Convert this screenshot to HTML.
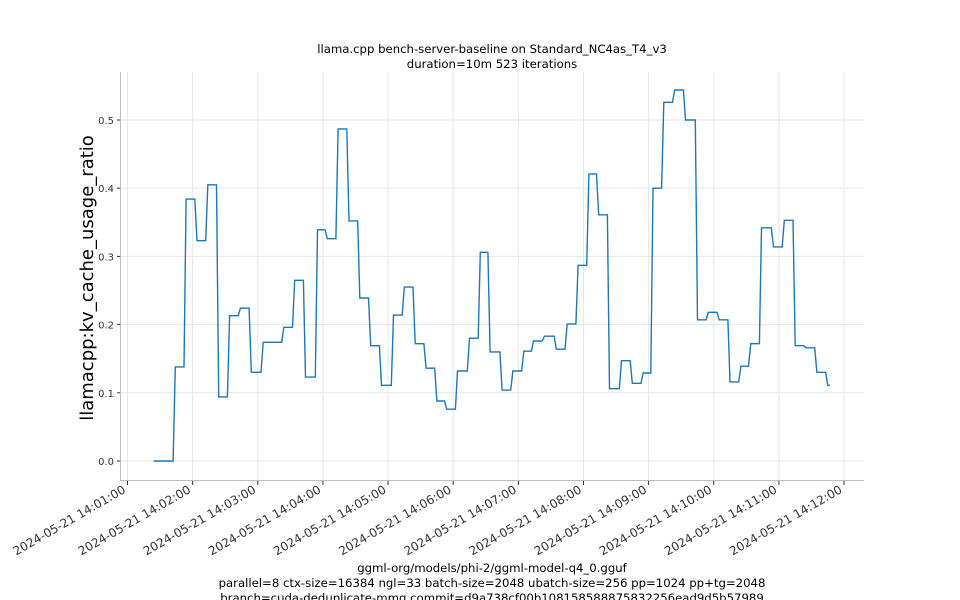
<!DOCTYPE html>
<html><head><meta charset="utf-8"><style>
body{margin:0;background:#fff;}
svg{display:block;font-family:"DejaVu Sans","Liberation Sans",sans-serif;}
</style></head><body>
<svg width="960" height="600" viewBox="0 0 960 600">
<text x="492" y="53" font-size="11.7" text-anchor="middle" fill="#000">llama.cpp bench-server-baseline on Standard_NC4as_T4_v3</text>
<text x="492" y="68" font-size="11.7" text-anchor="middle" fill="#000">duration=10m 523 iterations</text>
<g id="grid"></g>
<line x1="120.5" y1="72" x2="120.5" y2="480.5" stroke="#bbb"/>
<line x1="120" y1="480.5" x2="864" y2="480.5" stroke="#bbb"/>
<g id="yticks"></g>
<g id="xticks"></g>
<path id="series" fill="none" stroke="#1f77b4" stroke-width="1.4"/>
<text transform="translate(93,278) rotate(-90)" font-size="18" text-anchor="middle" fill="#000">llamacpp:kv_cache_usage_ratio</text>
<text x="492" y="572" font-size="11.7" text-anchor="middle">ggml-org/models/phi-2/ggml-model-q4_0.gguf</text>
<text x="492" y="587" font-size="11.7" text-anchor="middle">parallel=8 ctx-size=16384 ngl=33 batch-size=2048 ubatch-size=256 pp=1024 pp+tg=2048</text>
<text x="492" y="602" font-size="11.7" text-anchor="middle">branch=cuda-deduplicate-mmq commit=d9a738cf00b108158588875832256ead9d5b57989</text>
</svg>
<script>
const stepTimes = ["14:01:24","14:01:44","14:01:54","14:02:04","14:02:14","14:02:24","14:02:34","14:02:44","14:02:54","14:03:05","14:03:24","14:03:34","14:03:44","14:03:55","14:04:04","14:04:14","14:04:24","14:04:34","14:04:44","14:04:54","14:05:05","14:05:15","14:05:25","14:05:35","14:05:45","14:05:54","14:06:04","14:06:15","14:06:25","14:06:34","14:06:45","14:06:55","14:07:05","14:07:14","14:07:24","14:07:35","14:07:45","14:07:55","14:08:05","14:08:14","14:08:24","14:08:35","14:08:45","14:08:55","14:09:04","14:09:14","14:09:24","14:09:34","14:09:45","14:09:55","14:10:05","14:10:15","14:10:25","14:10:34","14:10:44","14:10:55","14:11:05","14:11:15","14:11:25","14:11:35","14:11:45"];
const stepValues = [0.000,0.138,0.384,0.323,0.405,0.094,0.213,0.224,0.130,0.174,0.196,0.265,0.123,0.339,0.326,0.487,0.352,0.239,0.169,0.111,0.214,0.255,0.172,0.136,0.088,0.076,0.132,0.180,0.306,0.160,0.104,0.132,0.161,0.176,0.183,0.164,0.201,0.287,0.421,0.361,0.106,0.147,0.114,0.129,0.400,0.526,0.544,0.500,0.207,0.218,0.207,0.116,0.139,0.172,0.342,0.314,0.353,0.169,0.166,0.130,0.111];
const endTime = "14:11:47";
const yTickValues = [0.0,0.1,0.2,0.3,0.4,0.5];
const xTickLabels = ["14:01:00","14:02:00","14:03:00","14:04:00","14:05:00","14:06:00","14:07:00","14:08:00","14:09:00","14:10:00","14:11:00","14:12:00"];
const NS="http://www.w3.org/2000/svg";
function sec(t){const p=t.split(":").map(Number);return p[0]*3600+p[1]*60+p[2];}
const t0=sec("14:01:00");
function X(t){return 127.5+(sec(t)-t0)*65.14/60;}
function Xs(s){return 127.5+(s-t0)*65.14/60;}
function Y(v){return 461-v*682;}
const grid=document.getElementById('grid'),yt=document.getElementById('yticks'),xt=document.getElementById('xticks');
yTickValues.forEach(v=>{
 const y=Y(v);
 const g=document.createElementNS(NS,'line');
 
 
 g.setAttribute('x1',121);g.setAttribute('x2',864);g.setAttribute('y1',y);g.setAttribute('y2',y);g.setAttribute('stroke','#e6e6e6');grid.appendChild(g);
 const tk=document.createElementNS(NS,'line');
 
 
 tk.setAttribute('x1',117);tk.setAttribute('x2',120);tk.setAttribute('y1',y);tk.setAttribute('y2',y);tk.setAttribute('stroke','#333');yt.appendChild(tk);
 const tx=document.createElementNS(NS,'text');
 
 
 tx.setAttribute('x',114);tx.setAttribute('y',y+4);tx.setAttribute('font-size','10');tx.setAttribute('text-anchor','end');tx.setAttribute('fill','#333');tx.textContent=v.toFixed(1);yt.appendChild(tx);
});
xTickLabels.forEach(l=>{
 const x=X(l);
 const g=document.createElementNS(NS,'line');
 
 
 g.setAttribute('x1',x);g.setAttribute('x2',x);g.setAttribute('y1',72);g.setAttribute('y2',480);g.setAttribute('stroke','#e6e6e6');grid.appendChild(g);
 const tk=document.createElementNS(NS,'line');
 
 
 tk.setAttribute('x1',x);tk.setAttribute('x2',x);tk.setAttribute('y1',481);tk.setAttribute('y2',485);tk.setAttribute('stroke','#333');xt.appendChild(tk);
 const tx=document.createElementNS(NS,'text');
 
 
 tx.setAttribute('transform','translate('+(x-1)+',492) rotate(-30)');tx.setAttribute('font-size','12');tx.setAttribute('text-anchor','end');tx.setAttribute('fill','#333');tx.textContent='2024-05-21 '+l;xt.appendChild(tx);
});
let d='';
for(let i=0;i<stepTimes.length;i++){
 const s=sec(stepTimes[i]);
 const e=i+1<stepTimes.length?sec(stepTimes[i+1])-2:sec(endTime);
 const y=Y(stepValues[i]);
 d+=(i?'L':'M')+Xs(s).toFixed(1)+','+y.toFixed(1)+'L'+Xs(e).toFixed(1)+','+y.toFixed(1);
}
document.getElementById('series').setAttribute('d',d);
</script>
</body></html>
